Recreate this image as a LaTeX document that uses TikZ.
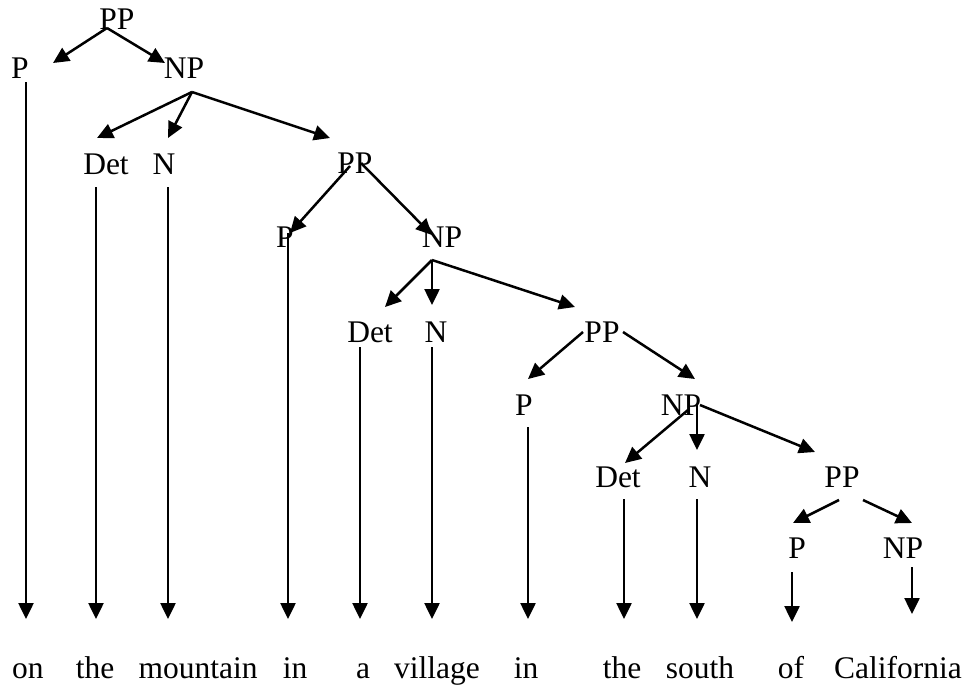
\documentclass[tikz,border=0pt]{standalone}
\usepackage{fontspec}
\setmainfont{Liberation Serif}
\usetikzlibrary{arrows.meta}
\begin{document}
\begin{tikzpicture}[x=1pt,y=-1pt,
  lbl/.style={anchor=base,inner sep=0pt,font=\fontsize{31.5}{36}\selectfont},
  arr/.style={line width=2.5pt,-{Triangle[length=16pt,width=15pt]}}]
\useasboundingbox (0,0) rectangle (969,689);
% labels
\node[lbl] (pp1) at (117,29) {PP};
\node[lbl] (p1) at (20,78) {P};
\node[lbl] (np1) at (184,78) {NP};
\node[lbl] (det1) at (106,174) {Det};
\node[lbl] (n1) at (164,174) {N};
\node[lbl] (pp2) at (355,173) {PP};
\node[lbl] (p2) at (285,247) {P};
\node[lbl] (np2) at (442,247) {NP};
\node[lbl] (det2) at (370,342) {Det};
\node[lbl] (n2) at (436,342) {N};
\node[lbl] (pp3) at (602,342) {PP};
\node[lbl] (p3) at (524,415) {P};
\node[lbl] (np3) at (681,415) {NP};
\node[lbl] (det3) at (618,487) {Det};
\node[lbl] (n3) at (700,487) {N};
\node[lbl] (pp4) at (842,487) {PP};
\node[lbl] (p4) at (797,558) {P};
\node[lbl] (np4) at (903,558) {NP};
% words
\node[lbl] (w1) at (28,678) {on};
\node[lbl] (w2) at (95,678) {the};
\node[lbl] (w3) at (198,678) {mountain};
\node[lbl] (w4) at (295,678) {in};
\node[lbl] (w5) at (363,678) {a};
\node[lbl] (w6) at (437,678) {village};
\node[lbl] (w7) at (526,678) {in};
\node[lbl] (w8) at (622,678) {the};
\node[lbl] (w9) at (700,678) {south};
\node[lbl] (w10) at (791,678) {of};
\node[lbl] (w11) at (898,678) {California};
% connector end points
\coordinate (pp1o) at (107,28);
\coordinate (p1t) at (53,63);
\coordinate (np1t) at (165,63);
\coordinate (np1o) at (192,92);
\coordinate (det1t) at (97,138);
\coordinate (n1t) at (168,138);
\coordinate (pp2t) at (330,138);
\coordinate (pp2ol) at (350,166);
\coordinate (pp2or) at (361,163);
\coordinate (p2t) at (290,233);
\coordinate (np2t) at (432,235);
\coordinate (np2o) at (432,260);
\coordinate (det2t) at (385,307);
\coordinate (n2t) at (432,305);
\coordinate (pp3t) at (575,307);
\coordinate (pp3ol) at (583,332);
\coordinate (pp3or) at (623,332);
\coordinate (p3t) at (528,379);
\coordinate (np3t) at (695,379);
\coordinate (np3ol) at (688,410);
\coordinate (np3o) at (697,405);
\coordinate (np3or) at (700,405);
\coordinate (det3t) at (625,463);
\coordinate (n3t) at (697,450);
\coordinate (pp4t) at (815,452);
\coordinate (pp4ol) at (839,500);
\coordinate (pp4or) at (863,500);
\coordinate (p4t) at (793,523);
\coordinate (np4t) at (912,523);
% vertical line ends
\coordinate (v1s) at (26,82);   \coordinate (v1e) at (26,619);
\coordinate (v2s) at (96,187);  \coordinate (v2e) at (96,619);
\coordinate (v3s) at (168,187); \coordinate (v3e) at (168,619);
\coordinate (v4s) at (288,233); \coordinate (v4e) at (288,619);
\coordinate (v5s) at (360,347); \coordinate (v5e) at (360,619);
\coordinate (v6s) at (432,347); \coordinate (v6e) at (432,619);
\coordinate (v7s) at (528,427); \coordinate (v7e) at (528,619);
\coordinate (v8s) at (624,499); \coordinate (v8e) at (624,619);
\coordinate (v9s) at (697,499); \coordinate (v9e) at (697,619);
\coordinate (v10s) at (792,572); \coordinate (v10e) at (792,622);
\coordinate (v11s) at (912,567); \coordinate (v11e) at (912,614);
% tree arrows
\draw[arr] (pp1o) -- (p1t);
\draw[arr] (pp1o) -- (np1t);
\draw[arr] (np1o) -- (det1t);
\draw[arr] (np1o) -- (n1t);
\draw[arr] (np1o) -- (pp2t);
\draw[arr] (pp2ol) -- (p2t);
\draw[arr] (pp2or) -- (np2t);
\draw[arr] (np2o) -- (det2t);
\draw[arr] (np2o) -- (n2t);
\draw[arr] (np2o) -- (pp3t);
\draw[arr] (pp3ol) -- (p3t);
\draw[arr] (pp3or) -- (np3t);
\draw[arr] (np3ol) -- (det3t);
\draw[arr] (np3o) -- (n3t);
\draw[arr] (np3or) -- (pp4t);
\draw[arr] (pp4ol) -- (p4t);
\draw[arr] (pp4or) -- (np4t);
% word arrows
\foreach \i in {1,...,11} {\draw[arr] (v\i s) -- (v\i e);}
\end{tikzpicture}
\end{document}
